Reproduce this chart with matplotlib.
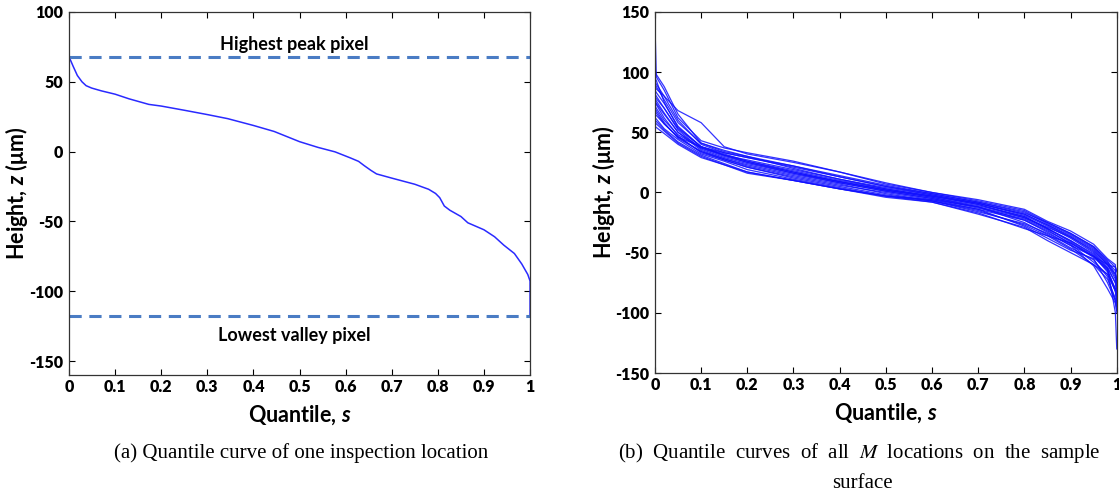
import matplotlib
matplotlib.use("Agg")
import matplotlib.pyplot as plt

plt.rcParams["font.family"] = ["Lato", "DejaVu Sans"]
plt.rcParams["mathtext.fontset"] = "custom"
plt.rcParams["mathtext.it"] = "Lato:italic:bold"
plt.rcParams["mathtext.rm"] = "Lato:bold"
plt.rcParams["axes.unicode_minus"] = False

# (a) one inspection location
s_a = [0, 0.009, 0.018, 0.028, 0.037, 0.049, 0.07, 0.1, 0.13, 0.173, 0.2, 0.25,
       0.3, 0.344, 0.4, 0.445, 0.5, 0.54, 0.577, 0.61, 0.628, 0.64, 0.655,
       0.667, 0.7, 0.75, 0.78, 0.795, 0.804, 0.814, 0.826, 0.85, 0.865, 0.9,
       0.923, 0.943, 0.966, 0.982, 0.995, 1.0, 1.0]
z_a = [67.9, 61, 54.5, 50, 47.2, 45.5, 43.5, 41.1, 37.8, 33.8, 32.6, 29.6,
       26.5, 23.6, 18.7, 14.4, 7.1, 3, -0.2, -4.5, -7, -10, -13.5,
       -16, -19, -23.4, -27, -30, -33, -39, -42, -46.5, -51, -56,
       -61, -67, -73, -80.5, -88, -92.7, -117]
peak_a = 68
valley_a = -117.5

# (b) all M locations
s_b = [0, 0.003, 0.02, 0.05, 0.1, 0.15, 0.2, 0.3, 0.4, 0.5, 0.6, 0.7, 0.8,
       0.85, 0.9, 0.95, 0.98, 0.997, 1.0]
curves_b = [
    [140, 96, 85, 62, 43, 37, 33, 26, 17, 8, 0, -6, -14, -24, -32, -43, -55, -60, -95],
    [100, 98, 88, 65, 41, 34, 30, 22, 14, 6, -1, -8, -16, -26, -35, -46, -58, -65, -75],
    [92, 90, 80, 60, 40, 33, 29, 21, 13, 5, -2, -9, -18, -27, -37, -48, -60, -68, -72],
    [88, 86, 80, 68, 58, 38, 32, 25, 17, 7, 0, -7, -15, -25, -34, -45, -56, -62, -66],
    [85, 83, 74, 55, 38, 31, 26, 18, 10, 3, -3, -10, -20, -30, -40, -52, -65, -80, -85],
    [80, 78, 70, 52, 36, 29, 24, 16, 9, 2, -4, -12, -25, -35, -46, -56, -70, -90, -100],
    [78, 76, 66, 50, 35, 28, 23, 15, 8, 1, -5, -13, -22, -31, -43, -58, -68, -82, -90],
    [75, 73, 62, 47, 33, 27, 21, 13, 6, 0, -6, -14, -28, -38, -48, -55, -75, -90, -95],
    [72, 70, 60, 48, 37, 31, 27, 19, 11, 4, -2, -9, -19, -28, -38, -50, -62, -75, -80],
    [70, 68, 58, 45, 34, 28, 22, 14, 7, -1, -7, -15, -27, -36, -47, -60, -68, -80, -85],
    [68, 66, 57, 46, 34, 27, 21, 12, 5, -2, -7, -16, -26, -34, -44, -53, -60, -72, -78],
    [65, 64, 57, 46, 38, 33, 29, 22, 13, 5, -1, -8, -17, -25, -34, -45, -57, -68, -72],
    [62, 61, 53, 44, 32, 26, 19, 11, 4, -3, -8, -17, -30, -36, -42, -54, -64, -82, -88],
    [60, 59, 52, 42, 31, 24, 17, 10, 3, -4, -8, -18, -29, -40, -50, -60, -72, -88, -92],
    [58, 57, 51, 41, 30, 23, 16, 10, 3, -3, -7, -14, -23, -32, -42, -53, -63, -75, -82],
    [55, 54, 49, 40, 29, 23, 17, 10, 3, -3, -6, -12, -21, -29, -37, -49, -60, -62, -65],
    [82, 80, 70, 53, 38, 32, 26, 17, 9, 2, -4, -11, -20, -30, -40, -51, -63, -100, -130],
    [90, 88, 77, 58, 41, 35, 30, 20, 11, 3, -3, -9, -18, -27, -36, -47, -59, -70, -76],
    [95, 93, 75, 54, 38, 31, 25, 17, 9, 2, -3, -10, -21, -30, -41, -53, -66, -82, -90],
    [76, 74, 65, 50, 37, 30, 25, 16, 8, 1, -5, -12, -23, -33, -44, -61, -80, -92, -98],
]

xticks = [0, 0.1, 0.2, 0.3, 0.4, 0.5, 0.6, 0.7, 0.8, 0.9, 1]
xticklabels = ["0", "0.1", "0.2", "0.3", "0.4", "0.5", "0.6", "0.7", "0.8", "0.9", "1"]

fig = plt.figure(figsize=(11.19, 4.98), dpi=100)
ax1 = fig.add_axes([0.0617, 0.247, 0.412, 0.729])
ax2 = fig.add_axes([0.5853, 0.251, 0.4127, 0.725])


def style(ax, ylim, yticks):
    ax.set_xlim(0, 1)
    ax.set_ylim(*ylim)
    ax.set_xticks(xticks)
    ax.set_xticklabels(xticklabels)
    ax.set_yticks(yticks)
    ax.tick_params(direction="in", top=True, right=True, length=4, width=0.8,
                   labelsize=11.5)
    ax.tick_params(axis="x", pad=3)
    ax.tick_params(axis="y", pad=4)
    for lab in ax.get_xticklabels() + ax.get_yticklabels():
        lab.set_fontweight("heavy")
    for sp in ax.spines.values():
        sp.set_linewidth(0.9)
        sp.set_color("#333333")
    ax.set_xlabel(r"Quantile, $s$", fontsize=15.5, fontweight="bold", labelpad=6)
    ax.set_ylabel(r"Height, $z$ ($\mathrm{\mu m}$)", fontsize=15.5, fontweight="bold")


ax1.plot(s_a, z_a, color="#2a2aff", lw=1.1)
ax1.axhline(peak_a, color="#4a7cc4", lw=2.2, ls=(0, (4, 2.5)))
ax1.axhline(valley_a, color="#4a7cc4", lw=2.2, ls=(0, (4, 2.5)))
ax1.text(0.488, 76.5, "Highest peak pixel", ha="center", va="center",
         fontsize=13, fontweight="bold")
ax1.text(0.488, -131.5, "Lowest valley pixel", ha="center", va="center",
         fontsize=13, fontweight="bold")
style(ax1, (-160, 100), [-150, -100, -50, 0, 50, 100])
ax1.yaxis.set_label_coords(-0.085, 0.5)

for z in curves_b:
    ax2.plot(s_b, z, color="#1010ff", lw=0.9, alpha=0.85)
style(ax2, (-150, 150), [-150, -100, -50, 0, 50, 100, 150])
ax2.yaxis.set_label_coords(-0.082, 0.5)

serif = ["Liberation Serif", "DejaVu Serif"]
fig.text(301 / 1119, 1 - 453 / 498, "(a) Quantile curve of one inspection location",
         ha="center", va="center", fontsize=15, family=serif)
fig.text(859 / 1119, 1 - 453 / 498,
         "(b)  Quantile  curves  of  all  $\\it{M}$  locations  on  the  sample",
         ha="center", va="center", fontsize=15, family=serif, math_fontfamily="stix")
fig.text(862 / 1119, 1 - 483 / 498, "surface", ha="center", va="center",
         fontsize=15, family=serif)

fig.savefig("out.png", dpi=100)
